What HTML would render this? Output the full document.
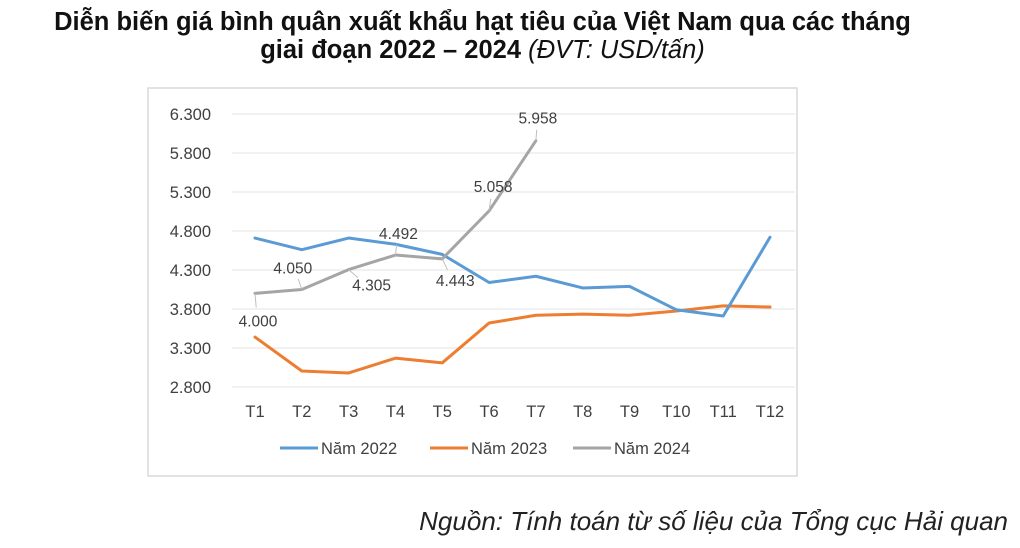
<!DOCTYPE html>
<html><head><meta charset="utf-8"><style>
body{margin:0;width:1020px;height:548px;background:#fff;font-family:"Liberation Sans",sans-serif;overflow:hidden;position:relative}
.t{position:absolute;left:0;width:965px;text-align:center;font-weight:bold;font-size:25.5px;color:#111;line-height:28px}
</style></head><body>
<div class="t" style="top:8px">Diễn biến giá bình quân xuất khẩu hạt tiêu của Việt Nam qua các tháng<br>giai đoạn 2022 – 2024 <span style="font-weight:normal;font-style:italic">(ĐVT: USD/tấn)</span></div>
<svg id="c" width="1020" height="548" style="position:absolute;left:0;top:0">
<rect x="148" y="88" width="649" height="388" fill="none" stroke="#d9d9d9" stroke-width="1.5"/>
</svg>
<div style="position:absolute;right:12px;top:506px;font-style:italic;font-size:26px;color:#222">Nguồn: Tính toán từ số liệu của Tổng cục Hải quan</div>
<script>
const categories=["T1","T2","T3","T4","T5","T6","T7","T8","T9","T10","T11","T12"];
const s2022=[4710,4560,4710,4630,4500,4140,4220,4070,4090,3790,3710,4720];
const s2023=[3440,3005,2980,3170,3110,3620,3720,3735,3720,3775,3840,3825];
const s2024=[4000,4050,4305,4492,4443,5058,5958];
const yTicks=[2800,3300,3800,4300,4800,5300,5800,6300];
const yTickLabels=["2.800","3.300","3.800","4.300","4.800","5.300","5.800","6.300"];
const labels2024=["4.000","4.050","4.305","4.492","4.443","5.058","5.958"];
const svg=document.getElementById('c');const NS='http://www.w3.org/2000/svg';
const x=i=>255+i*(770-255)/11;
const y=v=>387-(v-2800)*(273/3500);
function mk(t,a){const e=document.createElementNS(NS,t);for(const k in a)e.setAttribute(k,a[k]);svg.appendChild(e);return e;}
yTicks.forEach((v,i)=>{
 const g=mk('line',{x1:232,x2:795,y1:y(v),y2:y(v),stroke:'#e3e3e3','stroke-width':1});
 
 
 const t=mk('text',{x:211,y:y(v)+6,'text-anchor':'end','font-size':16.5,fill:'#404040','font-family':'Liberation Sans'});
 t.textContent=yTickLabels[i];
 
 
});
categories.forEach((c,i)=>{
 const t=mk('text',{x:x(i),y:417,'text-anchor':'middle','font-size':16.5,fill:'#404040','font-family':'Liberation Sans'});
 t.textContent=c;
 
 
});
function line(d,col,name){
 const p=mk('polyline',{points:d.map((v,i)=>x(i)+','+y(v)).join(' '),fill:'none',stroke:col,'stroke-width':3,'stroke-linejoin':'round','stroke-linecap':'round'});
 
 
}
line(s2023,'#ed7d31','series-2023');
line(s2022,'#5b9bd5','series-2022');
line(s2024,'#a5a5a5','series-2024');
const off=[[3,28],[-9,-21],[23,16],[3,-21],[13,22],[4,-24],[2,-22]];
s2024.forEach((v,i)=>{
 const lx=x(i)+off[i][0],ly=y(v)+off[i][1];
 const ld=mk('line',{x1:x(i),y1:y(v),x2:x(i)+off[i][0]*0.4,y2:y(v)+off[i][1]*0.5,stroke:'#bfbfbf','stroke-width':1});
 
 
 const t=mk('text',{x:lx,y:ly+5,'text-anchor':'middle','font-size':15.5,fill:'#404040','font-family':'Liberation Sans'});
 t.textContent=labels2024[i];
 
 
});
const leg=[["#5b9bd5","Năm 2022",280],["#ed7d31","Năm 2023",430],["#a5a5a5","Năm 2024",573]];
leg.forEach(l=>{
 const ln=mk('line',{x1:l[2],x2:l[2]+38,y1:448,y2:448,stroke:l[0],'stroke-width':3});
 
 
 const t=mk('text',{x:l[2]+41,y:454,'font-size':16.5,fill:'#404040','font-family':'Liberation Sans'});
 t.textContent=l[1];
 
 
});
</script>
</body></html>
